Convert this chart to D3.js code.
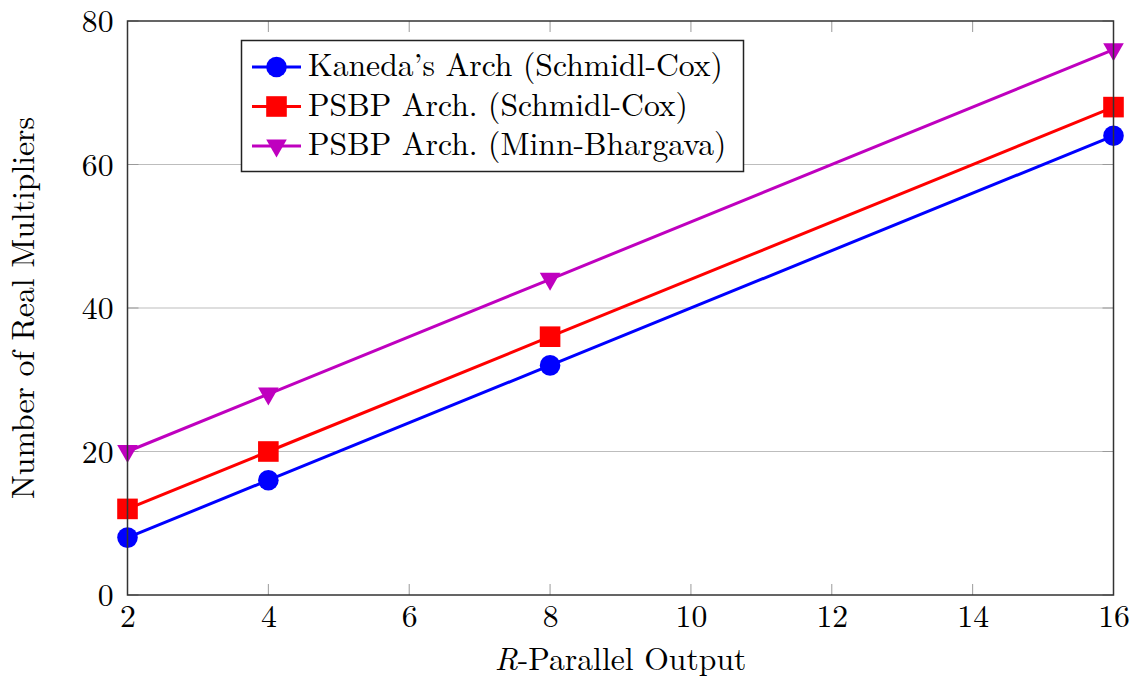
<!DOCTYPE html>
<html>
<head>
<meta charset="utf-8">
<script src="https://cdn.jsdelivr.net/npm/d3@7"></script>
<style>
  html, body { margin: 0; padding: 0; background: #fff; }
  svg { display: block; }
</style>
</head>
<body>
<svg id="chart" width="1143" height="677"></svg>
<script>
// R-parallel output sizes on the x axis
const outputs = [2, 4, 8, 16];
// Real multiplier counts for each architecture
const kanedaSC = [8, 16, 32, 64];
const psbpSC = [12, 20, 36, 68];
const psbpMB = [20, 28, 44, 76];
const seriesNames = [
  "Kaneda\u2019s Arch (Schmidl-Cox)",
  "PSBP Arch. (Schmidl-Cox)",
  "PSBP Arch. (Minn-Bhargava)"
];
const xTicks = [2, 4, 6, 8, 10, 12, 14, 16];
const yTicks = [0, 20, 40, 60, 80];

const FONT = '"Latin Modern Roman", "Liberation Serif", serif';
const FS = 31.7;

const series = [
  { name: seriesNames[0], values: kanedaSC, color: "#0000ff", marker: "circle" },
  { name: seriesNames[1], values: psbpSC, color: "#ff0000", marker: "square" },
  { name: seriesNames[2], values: psbpMB, color: "#bf00bf", marker: "triangle" }
];

const svg = d3.select("#chart");
const plotL = 127.5, plotR = 1113.5, plotT = 21, plotB = 595;

const x = d3.scaleLinear().domain([2, 16]).range([plotL, plotR]);
const y = d3.scaleLinear().domain([0, 80]).range([plotB, plotT]);

// horizontal grid
svg.append("g").selectAll("line")
  .data(yTicks.filter(d => d > 0 && d < 80))
  .join("line")
  .attr("x1", plotL).attr("x2", plotR)
  .attr("y1", d => y(d)).attr("y2", d => y(d))
  .attr("stroke", "#bdbdbd").attr("stroke-width", 1);

// inward tick marks on all four sides
const tickLen = 11;
const tg = svg.append("g").attr("stroke", "#9a9a9a").attr("stroke-width", 1);
xTicks.forEach(t => {
  tg.append("line").attr("x1", x(t)).attr("x2", x(t)).attr("y1", plotB).attr("y2", plotB - tickLen);
  tg.append("line").attr("x1", x(t)).attr("x2", x(t)).attr("y1", plotT).attr("y2", plotT + tickLen);
});
yTicks.forEach(t => {
  tg.append("line").attr("x1", plotL).attr("x2", plotL + tickLen).attr("y1", y(t)).attr("y2", y(t));
  tg.append("line").attr("x1", plotR).attr("x2", plotR - tickLen).attr("y1", y(t)).attr("y2", y(t));
});

// axis tick labels via d3 axes (domain and tick lines hidden)
const xAxis = svg.append("g")
  .attr("transform", `translate(0,${plotB})`)
  .call(d3.axisBottom(x).tickValues(xTicks).tickSize(0));
xAxis.select(".domain").remove();
xAxis.selectAll("text")
  .attr("y", 32).attr("dy", null)
  .style("font-family", FONT).style("font-size", FS + "px").attr("fill", "#000");

const yAxis = svg.append("g")
  .attr("transform", `translate(${plotL},0)`)
  .call(d3.axisLeft(y).tickValues(yTicks).tickSize(0));
yAxis.select(".domain").remove();
yAxis.selectAll("text")
  .attr("x", -14).attr("dy", null).attr("y", 10.5)
  .style("font-family", FONT).style("font-size", FS + "px").attr("fill", "#000");

// series lines and markers
const line = d3.line().x((d, i) => x(outputs[i])).y(d => y(d));

function drawMarker(g, type, cx, cy, color) {
  const h = 10.3;
  if (type === "circle") {
    g.append("circle").attr("cx", cx).attr("cy", cy).attr("r", h).attr("fill", color);
  } else if (type === "square") {
    g.append("rect").attr("x", cx - h).attr("y", cy - h).attr("width", 2 * h).attr("height", 2 * h).attr("fill", color);
  } else {
    g.append("path")
      .attr("d", `M${cx - h},${cy - 6.5} L${cx + h},${cy - 6.5} L${cx},${cy + 11.5} Z`)
      .attr("fill", color);
  }
}

series.forEach(s => {
  svg.append("path")
    .attr("d", line(s.values))
    .attr("fill", "none").attr("stroke", s.color).attr("stroke-width", 3);
  const mg = svg.append("g");
  s.values.forEach((v, i) => drawMarker(mg, s.marker, x(outputs[i]), y(v), s.color));
});

// plot frame
svg.append("rect")
  .attr("x", plotL).attr("y", plotT)
  .attr("width", plotR - plotL).attr("height", plotB - plotT)
  .attr("fill", "none").attr("stroke", "#333").attr("stroke-width", 1.5);

// legend
const lg = svg.append("g");
lg.append("rect")
  .attr("x", 241.5).attr("y", 40.5).attr("width", 502).attr("height", 131)
  .attr("fill", "#fff").attr("stroke", "#222").attr("stroke-width", 1.5);
series.forEach((s, i) => {
  const cy = 67 + i * 39.5;
  lg.append("line").attr("x1", 252).attr("x2", 301).attr("y1", cy).attr("y2", cy)
    .attr("stroke", s.color).attr("stroke-width", 3);
  drawMarker(lg, s.marker, 276.5, cy, s.color);
  lg.append("text").attr("x", 308).attr("y", cy + 9)
    .style("font-family", FONT).style("font-size", FS + "px").text(s.name);
});

// axis titles
const xt = svg.append("text")
  .attr("x", (plotL + plotR) / 2).attr("y", 670).attr("text-anchor", "middle")
  .style("font-family", FONT).style("font-size", FS + "px");
xt.append("tspan").attr("font-style", "italic").text("R");
xt.append("tspan").text("-Parallel Output");

svg.append("text")
  .attr("transform", `translate(34,${(plotT + plotB) / 2}) rotate(-90)`)
  .attr("text-anchor", "middle")
  .style("font-family", FONT).style("font-size", FS + "px")
  .text("Number of Real Multipliers");
</script>
</body>
</html>
